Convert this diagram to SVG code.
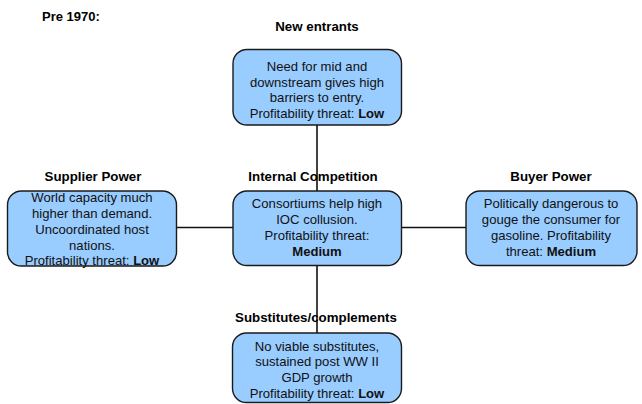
<svg xmlns="http://www.w3.org/2000/svg" width="642" height="404" viewBox="0 0 642 404">
  <style>
    .box { fill: #99ccff; stroke: #1a1a1a; stroke-width: 1.4; }
    .txt { font-family: "Liberation Sans", Arial, sans-serif; font-size: 13.1px; fill: #111; text-anchor: middle; }
    .hd { font-family: "Liberation Sans", Arial, sans-serif; font-size: 13.3px; font-weight: bold; fill: #000; text-anchor: middle; }
    .b { font-weight: bold; }
    .conn { stroke: #111; stroke-width: 1.6; fill: none; }
  </style>
  <rect width="642" height="404" fill="#ffffff"/>

  <!-- connectors -->
  <g id="connectors">
    <line class="conn" x1="317" y1="125" x2="317" y2="333"/>
    <line class="conn" x1="176" y1="227.5" x2="233" y2="227.5"/>
    <line class="conn" x1="401" y1="227.5" x2="466" y2="227.5"/>
  </g>

  <text class="hd" x="42" y="21" style="text-anchor:start;font-size:13px">Pre 1970:</text>

  <g id="new-entrants">
    <text class="hd" x="317" y="31">New entrants</text>
    <rect class="box" x="233" y="49.5" width="168.5" height="75.5" rx="14"/>
    <text class="txt" x="317" y="71">Need for mid and</text>
    <text class="txt" x="317" y="86.5">downstream gives high</text>
    <text class="txt" x="317" y="102">barriers to entry.</text>
    <text class="txt" x="317" y="117.5">Profitability threat: <tspan class="b">Low</tspan></text>
  </g>

  <g id="supplier-power">
    <text class="hd" x="93" y="181">Supplier Power</text>
    <rect class="box" x="7.5" y="191" width="169" height="75" rx="14"/>
    <text class="txt" x="92" y="201.5">World capacity much</text>
    <text class="txt" x="92" y="217.5">higher than demand.</text>
    <text class="txt" x="92" y="233.5">Uncoordinated host</text>
    <text class="txt" x="92" y="249.5">nations.</text>
    <text class="txt" x="92" y="265">Profitability threat: <tspan class="b">Low</tspan></text>
  </g>

  <g id="internal-competition">
    <text class="hd" x="313" y="181">Internal Competition</text>
    <rect class="box" x="233" y="191" width="168.5" height="74.5" rx="14"/>
    <text class="txt" x="317" y="207.5">Consortiums help high</text>
    <text class="txt" x="317" y="223.5">IOC collusion.</text>
    <text class="txt" x="317" y="240">Profitability threat:</text>
    <text class="txt b" x="317" y="256">Medium</text>
  </g>

  <g id="buyer-power">
    <text class="hd" x="551" y="181">Buyer Power</text>
    <rect class="box" x="466" y="191" width="171" height="74.5" rx="14"/>
    <text class="txt" x="551" y="207.5">Politically dangerous to</text>
    <text class="txt" x="551" y="223.5">gouge the consumer for</text>
    <text class="txt" x="551" y="240">gasoline. Profitability</text>
    <text class="txt" x="551" y="256">threat: <tspan class="b">Medium</tspan></text>
  </g>

  <g id="substitutes">
    <text class="hd" x="316" y="322">Substitutes/complements</text>
    <rect class="box" x="232.5" y="333" width="169" height="69.5" rx="14"/>
    <text class="txt" x="317" y="350.5">No viable substitutes,</text>
    <text class="txt" x="317" y="366">sustained post WW II</text>
    <text class="txt" x="317" y="381.5">GDP growth</text>
    <text class="txt" x="317" y="397.5">Profitability threat: <tspan class="b">Low</tspan></text>
  </g>
</svg>
